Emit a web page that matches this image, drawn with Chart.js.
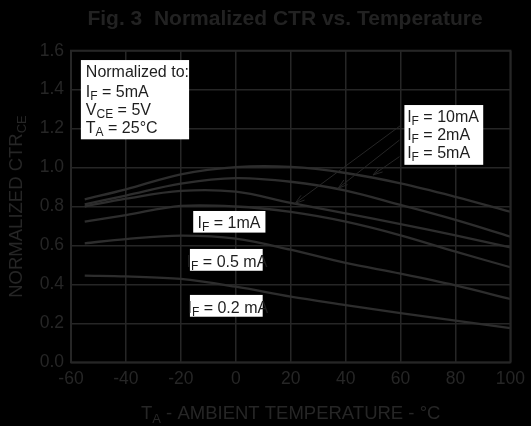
<!DOCTYPE html>
<html>
<head>
<meta charset="utf-8">
<script src="https://cdn.jsdelivr.net/npm/chart.js@4.4.1/dist/chart.umd.min.js"></script>
<style>
    html, body { margin: 0; padding: 0; background: #000; }
    #wrap { width: 531px; height: 426px; }
</style>
</head>
<body>
<div id="wrap"><canvas id="ctrChart" width="531" height="426"></canvas></div>
<script>
// values (normalized CTR vs ambient temperature)
const temperatures = [-55, -40, -20, 0, 20, 40, 60, 80, 100];
const ctr5mA = [0.837, 0.888, 0.965, 1.002, 1.003, 0.972, 0.919, 0.850, 0.773];
const ctr2mA = [0.811, 0.856, 0.917, 0.946, 0.927, 0.882, 0.808, 0.731, 0.645];
const ctr10mA = [0.800, 0.840, 0.880, 0.876, 0.818, 0.765, 0.710, 0.652, 0.590];
const ctr1mA = [0.722, 0.756, 0.803, 0.800, 0.772, 0.722, 0.652, 0.568, 0.488];
const ctr05mA = [0.611, 0.633, 0.650, 0.635, 0.578, 0.510, 0.455, 0.395, 0.325];
const ctr02mA = [0.445, 0.441, 0.428, 0.388, 0.337, 0.294, 0.252, 0.214, 0.175];

const xTickValues = [-60, -40, -20, 0, 20, 40, 60, 80, 100];
const yTickValues = [0, 0.2, 0.4, 0.6, 0.8, 1.0, 1.2, 1.4, 1.6];

const INK = '#262626';
const FONT = '"Liberation Sans", Arial, Helvetica, sans-serif';

// annotation boxes, in data units
const noteBoxes = [
    { x0: -56.4, x1: -17.0, y0: 1.552, y1: 1.145, lines: [
        { x: -54.6, y: 1.467, parts: [['Normalized to:', 0]] },
        { x: -54.6, y: 1.364, parts: [['I', 0], ['F', 1], [' = 5mA', 0]] },
        { x: -54.6, y: 1.270, parts: [['V', 0], ['CE', 1], [' = 5V', 0]] },
        { x: -54.6, y: 1.179, parts: [['T', 0], ['A', 1], [' = 25°C', 0]] }
    ] },
    { x0: 61.4, x1: 90.1, y0: 1.321, y1: 1.014, lines: [
        { x: 62.4, y: 1.236, parts: [['I', 0], ['F', 1], [' = 10mA', 0]] },
        { x: 62.4, y: 1.142, parts: [['I', 0], ['F', 1], [' = 2mA', 0]] },
        { x: 62.4, y: 1.048, parts: [['I', 0], ['F', 1], [' = 5mA', 0]] }
    ] },
    { x0: -15.5, x1: 10.8, y0: 0.777, y1: 0.666, lines: [
        { x: -13.9, y: 0.691, parts: [['I', 0], ['F', 1], [' = 1mA', 0]] }
    ] },
    { x0: -16.7, x1: 9.8, y0: 0.582, y1: 0.470, lines: [
        { x: -17.9, y: 0.488, parts: [['I', 0], ['F', 1], [' = 0.5 mA', 0]] }
    ] },
    { x0: -16.7, x1: 9.8, y0: 0.346, y1: 0.234, lines: [
        { x: -17.6, y: 0.252, parts: [['I', 0], ['F', 1], [' = 0.2 mA', 0]] }
    ] }
];

const noteArrows = [
    { from: [60.2, 1.218], to: [21.6, 0.816] },
    { from: [59.6, 1.141], to: [37.3, 0.894] },
    { from: [59.6, 1.056], to: [50.0, 0.962] }
];

function toPoints(values) {
    return temperatures.map(function (t, i) { return { x: t, y: values[i] }; });
}

function buildDataset(label, values) {
    return {
        label: label,
        data: toPoints(values),
        borderColor: '#2d2d2d',
        borderWidth: 2.3,
        pointRadius: 0,
        fill: false,
        tension: 0.35
    };
}

function partsWidth(ctx, parts, size) {
    let w = 0;
    parts.forEach(function (p) {
        ctx.font = (p[1] ? Math.round(size * 0.72) : size) + 'px ' + FONT;
        w += ctx.measureText(p[0]).width;
    });
    return w;
}

function drawParts(ctx, parts, x, y, size) {
    parts.forEach(function (p) {
        ctx.font = (p[1] ? Math.round(size * 0.72) : size) + 'px ' + FONT;
        ctx.fillText(p[0], x, y + (p[1] ? size * 0.2 : 0));
        x += ctx.measureText(p[0]).width;
    });
}

function drawArrow(ctx, x1, y1, x2, y2) {
    const ang = Math.atan2(y2 - y1, x2 - x1);
    const len = 10, spread = 0.3;
    ctx.beginPath();
    ctx.moveTo(x1, y1);
    ctx.lineTo(x2, y2);
    ctx.moveTo(x2 - len * Math.cos(ang - spread), y2 - len * Math.sin(ang - spread));
    ctx.lineTo(x2, y2);
    ctx.lineTo(x2 - len * Math.cos(ang + spread), y2 - len * Math.sin(ang + spread));
    ctx.stroke();
}

const decorPlugin = {
    id: 'decor',
    afterDatasetsDraw: function (chart) {
        const ctx = chart.ctx;
        const xs = chart.scales.x, ys = chart.scales.y;
        const area = chart.chartArea;
        ctx.save();

        // plot frame
        ctx.strokeStyle = INK;
        ctx.lineWidth = 2;
        ctx.strokeRect(area.left, area.top, area.right - area.left, area.bottom - area.top);

        // arrows
        ctx.lineWidth = 1;
        noteArrows.forEach(function (a) {
            drawArrow(ctx,
                xs.getPixelForValue(a.from[0]), ys.getPixelForValue(a.from[1]),
                xs.getPixelForValue(a.to[0]), ys.getPixelForValue(a.to[1]));
        });

        // label boxes
        ctx.textBaseline = 'alphabetic';
        ctx.textAlign = 'left';
        noteBoxes.forEach(function (b) {
            const left = xs.getPixelForValue(b.x0), right = xs.getPixelForValue(b.x1);
            const top = ys.getPixelForValue(b.y0), bottom = ys.getPixelForValue(b.y1);
            ctx.fillStyle = '#ffffff';
            ctx.fillRect(left, top, right - left, bottom - top);
            ctx.fillStyle = '#1e1e1e';
            b.lines.forEach(function (ln) {
                drawParts(ctx, ln.parts, xs.getPixelForValue(ln.x), ys.getPixelForValue(ln.y), 16);
            });
        });

        // title
        ctx.fillStyle = '#222222';
        ctx.textAlign = 'center';
        ctx.font = 'bold 21px ' + FONT;
        ctx.fillText('Fig. 3  Normalized CTR vs. Temperature', 285, 25);

        // x axis title
        ctx.textAlign = 'left';
        ctx.fillStyle = INK;
        const xParts = [['T', 0], ['A', 1], [' - AMBIENT TEMPERATURE - °C', 0]];
        const xw = partsWidth(ctx, xParts, 18.5);
        drawParts(ctx, xParts, (area.left + area.right) / 2 - xw / 2, 419, 18.5);

        // y axis title
        const yParts = [['NORMALIZED CTR', 0], ['CE', 1]];
        const yw = partsWidth(ctx, yParts, 18.5);
        ctx.translate(22, (area.top + area.bottom) / 2);
        ctx.rotate(-Math.PI / 2);
        drawParts(ctx, yParts, -yw / 2, 0, 18.5);

        ctx.restore();
    }
};

new Chart(document.getElementById('ctrChart').getContext('2d'), {
    type: 'line',
    data: {
        datasets: [
            buildDataset('IF = 5mA', ctr5mA),
            buildDataset('IF = 2mA', ctr2mA),
            buildDataset('IF = 10mA', ctr10mA),
            buildDataset('IF = 1mA', ctr1mA),
            buildDataset('IF = 0.5 mA', ctr05mA),
            buildDataset('IF = 0.2 mA', ctr02mA)
        ]
    },
    options: {
        responsive: false,
        animation: false,
        devicePixelRatio: 1,
        layout: { padding: { top: 50.7, right: 17.7, left: 0, bottom: 0 } },
        plugins: {
            legend: { display: false },
            tooltip: { enabled: false }
        },
        scales: {
            x: {
                type: 'linear',
                min: xTickValues[0],
                max: xTickValues[xTickValues.length - 1],
                afterBuildTicks: function (scale) {
                    scale.ticks = xTickValues.map(function (v) { return { value: v }; });
                },
                afterFit: function (scale) { scale.height = 63.7; },
                ticks: {
                    color: INK,
                    font: { family: FONT, size: 17.5 },
                    padding: 6,
                    maxRotation: 0,
                    callback: function (v) { return String(v); }
                },
                grid: { color: INK, lineWidth: 1.5, drawTicks: false },
                border: { display: false }
            },
            y: {
                min: yTickValues[0],
                max: yTickValues[yTickValues.length - 1],
                afterBuildTicks: function (scale) {
                    scale.ticks = yTickValues.map(function (v) { return { value: v }; });
                },
                afterFit: function (scale) { scale.width = 71; },
                ticks: {
                    color: INK,
                    font: { family: FONT, size: 17.5 },
                    padding: 7,
                    callback: function (v) { return Number(v).toFixed(1); }
                },
                grid: { color: INK, lineWidth: 1.5, drawTicks: false },
                border: { display: false }
            }
        }
    },
    plugins: [decorPlugin]
});
</script>
</body>
</html>
